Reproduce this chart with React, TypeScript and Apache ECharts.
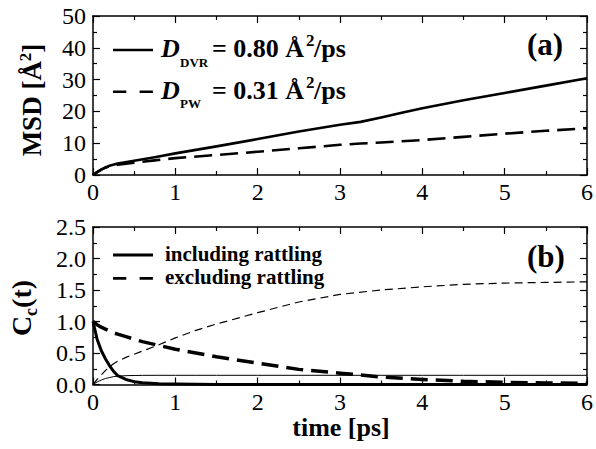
import React, { useEffect, useRef } from "react";
import * as echarts from "echarts";

// ---------- data ----------
const msdTime = [0, 0.05, 0.1, 0.15, 0.2, 0.3, 0.5, 0.75, 1, 1.5, 2, 2.5, 3, 3.25, 3.5, 3.75, 4, 4.5, 5, 5.5, 6];
const msdDVR = [0, 0.9, 1.7, 2.4, 2.9, 3.6, 4.5, 5.6, 6.8, 9.0, 11.3, 13.7, 15.8, 16.7, 18.1, 19.6, 21.0, 23.5, 25.8, 28.1, 30.4];
const msdPW = [0, 0.9, 1.7, 2.3, 2.7, 3.2, 3.9, 4.6, 5.3, 6.3, 7.3, 8.4, 9.5, 9.9, 10.2, 10.6, 11.0, 12.0, 13.0, 13.9, 14.7];

const ccTime = [0, 0.05, 0.1, 0.15, 0.2, 0.25, 0.3, 0.4, 0.5, 0.6, 0.8, 1, 1.25, 1.5, 2, 2.5, 3, 3.5, 4, 4.5, 5, 5.5, 6];
const ccIncluding = [1.0, 0.72, 0.54, 0.41, 0.3, 0.21, 0.14, 0.08, 0.045, 0.028, 0.013, 0.006, 0.003, 0.001, 0, 0, 0, 0, 0, 0, 0, 0, 0];
const ccExcluding = [1.0, 0.95, 0.91, 0.88, 0.85, 0.82, 0.8, 0.76, 0.72, 0.68, 0.62, 0.56, 0.5, 0.44, 0.34, 0.24, 0.18, 0.12, 0.08, 0.05, 0.035, 0.025, 0.02];
const ccIncludingThin = [0, 0.04, 0.07, 0.095, 0.11, 0.125, 0.133, 0.14, 0.143, 0.145, 0.146, 0.146, 0.146, 0.146, 0.146, 0.146, 0.146, 0.146, 0.146, 0.146, 0.146, 0.146, 0.146];
const ccExcludingThin = [0, 0.08, 0.15, 0.22, 0.28, 0.33, 0.37, 0.43, 0.48, 0.53, 0.63, 0.74, 0.86, 0.96, 1.14, 1.31, 1.43, 1.5, 1.55, 1.59, 1.61, 1.62, 1.63];

const timeTicks = [0, 1, 2, 3, 4, 5, 6];
const msdTicks = [0, 10, 20, 30, 40, 50];
const ccTicks = [0, 0.5, 1.0, 1.5, 2.0, 2.5];

const FONT = "'Liberation Serif', 'Times New Roman', Times, serif";

const pairs = (xs: number[], ys: number[]) => xs.map((x, i) => [x, ys[i]]);

function axis(kind: "x" | "y", gridIndex: number, position: string, ticks: number[], showLabel: boolean, fmt?: (v: number) => string) {
  return {
    type: "value",
    gridIndex,
    position,
    min: ticks[0],
    max: ticks[ticks.length - 1],
    interval: ticks[1] - ticks[0],
    axisLine: { show: true, onZero: false, lineStyle: { color: "#000", width: 1.5 } },
    axisTick: { show: true, inside: true, length: 7, lineStyle: { color: "#000", width: 1.2 } },
    minorTick: { show: true, splitNumber: 2, length: 4, lineStyle: { color: "#000", width: 1.2 } },
    splitLine: { show: false },
    minorSplitLine: { show: false },
    axisLabel: {
      show: showLabel,
      color: "#000",
      fontFamily: FONT,
      fontSize: 24,
      lineHeight: 24,
      margin: kind === "x" ? 5 : 7,
      formatter: fmt ? (v: number) => fmt(v) : undefined,
    },
  };
}

export default function App() {
  const ref = useRef<HTMLDivElement>(null);
  useEffect(() => {
    if (!ref.current) return;
    const chart = echarts.init(ref.current, null, { renderer: "svg" });
    const bold = { fontFamily: FONT, fontWeight: "bold", fill: "#000" };
    const line = (xi: number, yi: number, xs: number[], ys: number[], width: number, type: any) => ({
      type: "line", xAxisIndex: xi, yAxisIndex: yi, data: pairs(xs, ys),
      showSymbol: false, symbol: "none", smooth: false,
      lineStyle: { color: "#000", width, type, join: "round" },
    });
    const option: any = {
      animation: false,
      backgroundColor: "#fff",
      grid: [
        { left: 93, top: 16, width: 496, height: 159 },
        { left: 93, top: 227, width: 496, height: 157.5 },
      ],
      xAxis: [
        axis("x", 0, "bottom", timeTicks, true),
        axis("x", 0, "top", timeTicks, false),
        axis("x", 1, "bottom", timeTicks, true),
        axis("x", 1, "top", timeTicks, false),
      ],
      yAxis: [
        axis("y", 0, "left", msdTicks, true),
        axis("y", 0, "right", msdTicks, false),
        axis("y", 1, "left", ccTicks, true, (v) => v.toFixed(1)),
        axis("y", 1, "right", ccTicks, false),
      ],
      series: [
        line(0, 0, msdTime, msdDVR, 2.6, "solid"),
        line(0, 0, msdTime, msdPW, 2.6, [18, 8]),
        line(2, 2, ccTime, ccIncludingThin, 1, "solid"),
        line(2, 2, ccTime, ccExcludingThin, 1.2, [8, 5]),
        line(2, 2, ccTime, ccIncluding, 3, "solid"),
        line(2, 2, ccTime, ccExcluding, 3.5, [17, 8]),
      ],
      graphic: [
        // y axis titles
        {
          type: "text", x: 32, y: 100, rotation: Math.PI / 2,
          style: {
            text: "{m|MSD [Å}{s|2}{m|]}",
            align: "center", verticalAlign: "middle",
            rich: {
              m: { ...bold, fontSize: 27, lineHeight: 30 },
              s: { ...bold, fontSize: 17, lineHeight: 17, verticalAlign: "top" },
            },
          },
        },
        {
          type: "text", x: 21, y: 308, rotation: Math.PI / 2,
          style: {
            text: "{m|C}{b|c}{m|(t)}",
            align: "center", verticalAlign: "middle",
            rich: {
              m: { ...bold, fontSize: 28, lineHeight: 38 },
              b: { ...bold, fontSize: 18, lineHeight: 18, verticalAlign: "bottom" },
            },
          },
        },
        // x axis title
        {
          type: "text", x: 341, y: 427,
          style: { ...bold, text: "time [ps]", fontSize: 26, align: "center", verticalAlign: "middle" },
        },
        // panel labels
        { type: "text", x: 527, y: 44, style: { ...bold, text: "(a)", fontSize: 31, align: "left", verticalAlign: "middle" } },
        { type: "text", x: 527, y: 256, style: { ...bold, text: "(b)", fontSize: 31, align: "left", verticalAlign: "middle" } },
        // legend (a)
        { type: "line", shape: { x1: 113, y1: 50, x2: 153, y2: 50 }, style: { stroke: "#000", lineWidth: 2.6 } },
        { type: "line", shape: { x1: 113, y1: 91.7, x2: 153, y2: 91.7 }, style: { stroke: "#000", lineWidth: 2.6, lineDash: [13.3, 13.3] } },
        { type: "text", x: 161, y: 48.4, style: { ...bold, fontStyle: "italic", text: "D", fontSize: 26, align: "left", verticalAlign: "middle" } },
        { type: "text", x: 180, y: 62.4, style: { ...bold, text: "DVR", fontSize: 13, align: "left", verticalAlign: "middle" } },
        { type: "text", x: 304, y: 48.4, style: { ...bold, text: "= 0.80 Å", fontSize: 26, align: "right", verticalAlign: "middle" } },
        { type: "text", x: 306, y: 40.5, style: { ...bold, text: "2", fontSize: 17, align: "left", verticalAlign: "middle" } },
        { type: "text", x: 314, y: 48.4, style: { ...bold, text: "/ps", fontSize: 26, align: "left", verticalAlign: "middle" } },
        { type: "text", x: 161, y: 90, style: { ...bold, fontStyle: "italic", text: "D", fontSize: 26, align: "left", verticalAlign: "middle" } },
        { type: "text", x: 180, y: 103.7, style: { ...bold, text: "PW", fontSize: 13, align: "left", verticalAlign: "middle" } },
        { type: "text", x: 304, y: 90, style: { ...bold, text: "= 0.31 Å", fontSize: 26, align: "right", verticalAlign: "middle" } },
        { type: "text", x: 306, y: 82.2, style: { ...bold, text: "2", fontSize: 17, align: "left", verticalAlign: "middle" } },
        { type: "text", x: 314, y: 90, style: { ...bold, text: "/ps", fontSize: 26, align: "left", verticalAlign: "middle" } },
        // legend (b)
        { type: "line", shape: { x1: 113, y1: 255, x2: 153, y2: 255 }, style: { stroke: "#000", lineWidth: 2.8 } },
        { type: "line", shape: { x1: 113, y1: 278.3, x2: 153, y2: 278.3 }, style: { stroke: "#000", lineWidth: 2.8, lineDash: [13.3, 13.3] } },
        { type: "text", x: 165, y: 254, style: { ...bold, text: "including rattling", fontSize: 21, align: "left", verticalAlign: "middle" } },
        { type: "text", x: 165, y: 277, style: { ...bold, text: "excluding rattling", fontSize: 21, align: "left", verticalAlign: "middle" } },
      ],
    };
    chart.setOption(option);
    return () => chart.dispose();
  }, []);
  return (
    <div
      ref={ref}
      style={{ position: "absolute", left: 0, top: 0, width: 596, height: 449, background: "#fff" }}
    />
  );
}
